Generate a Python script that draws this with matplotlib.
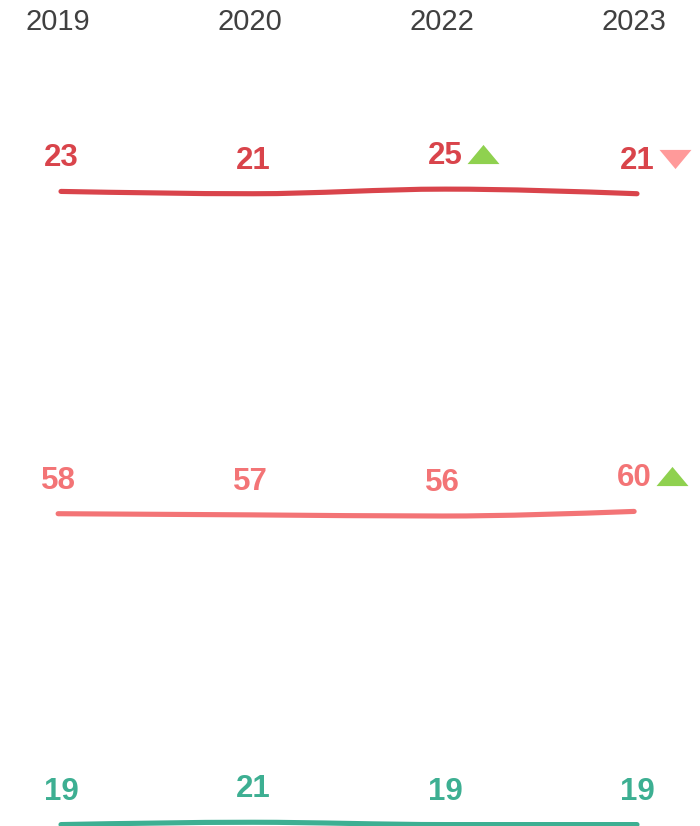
"""Small-multiple trend lines with value labels and change arrows."""
import numpy as np
import matplotlib
matplotlib.use("Agg")
import matplotlib.pyplot as plt
from matplotlib.path import Path
from matplotlib.patches import PathPatch
from matplotlib import transforms

years = ["2019", "2020", "2022", "2023"]
series_a = [23, 21, 25, 21]
series_b = [58, 57, 56, 60]
series_c = [19, 21, 19, 19]
trend_a = [None, None, "up", "down"]
trend_b = [None, None, None, "up"]
trend_c = [None, None, None, None]

colors = ["#d9444b", "#f37476", "#3daf92"]
up_color = "#8fd14f"
down_color = "#ff9a9a"

plt.rcParams["font.family"] = ["Liberation Sans", "DejaVu Sans"]

W, H = 700, 826
fig = plt.figure(figsize=(W / 100, H / 100), dpi=100)

# layout: vertical centre of each band (figure fraction) and px per unit
band_centres = [1 - 192 / H, 1 - 514 / H, 1 - 824 / H]
band_shift = [0.0, -0.015, 0.0]   # small horizontal nudge per band (x units)
band_height = 0.2
px_per_unit = 1.15
x = np.arange(len(years))
xlim = (-61 / 192, 3 + 63 / 192)


def monotone_path(xs, ys):
    """Cubic bezier path through the points (monotone-x style)."""
    xs = np.asarray(xs, float)
    ys = np.asarray(ys, float)
    h = np.diff(xs)
    s = np.diff(ys) / h
    n = len(xs)
    t = np.zeros(n)
    for i in range(1, n - 1):
        if s[i - 1] * s[i] <= 0:
            t[i] = 0
        else:
            p = (s[i - 1] * h[i] + s[i] * h[i - 1]) / (h[i - 1] + h[i])
            t[i] = (np.sign(s[i - 1]) + np.sign(s[i])) * min(abs(s[i - 1]), abs(s[i]), 0.5 * abs(p))
    t[0] = (3 * s[0] - t[1]) / 2
    t[-1] = (3 * s[-1] - t[-2]) / 2
    verts = [(xs[0], ys[0])]
    codes = [Path.MOVETO]
    for i in range(n - 1):
        d = h[i] / 3
        verts += [(xs[i] + d, ys[i] + d * t[i]),
                  (xs[i + 1] - d, ys[i + 1] - d * t[i + 1]),
                  (xs[i + 1], ys[i + 1])]
        codes += [Path.CURVE4] * 3
    return Path(verts, codes)


tri_up = Path([(-1, -0.6), (1, -0.6), (0, 0.6), (-1, -0.6)],
              [Path.MOVETO, Path.LINETO, Path.LINETO, Path.CLOSEPOLY])
tri_down = Path([(-1, 0.6), (1, 0.6), (0, -0.6), (-1, 0.6)],
                [Path.MOVETO, Path.LINETO, Path.LINETO, Path.CLOSEPOLY])

all_series = [series_a, series_b, series_c]
all_trends = [trend_a, trend_b, trend_c]
axes = []
for k, (vals, trends) in enumerate(zip(all_series, all_trends)):
    ax = fig.add_axes([0, band_centres[k] - band_height / 2, 1, band_height])
    ax.set_axis_off()
    ax.patch.set_visible(False)
    half = band_height * H / px_per_unit / 2
    mid = np.mean(vals)
    ax.set_ylim(mid - half, mid + half)
    ax.set_xlim(xlim[0] - band_shift[k], xlim[1] - band_shift[k])
    axes.append(ax)

    patch = PathPatch(monotone_path(x, vals), fill=False, edgecolor=colors[k],
                      linewidth=3.7, capstyle="round", joinstyle="round",
                      clip_on=False)
    ax.add_patch(patch)

    for xi, v, tr in zip(x, vals, trends):
        ax.annotate(str(v), (xi, v), xytext=(0, 33), textcoords="offset pixels",
                    ha="center", va="center", fontsize=22.5, fontweight="bold",
                    color=colors[k], annotation_clip=False)
        if tr is not None:
            off = transforms.offset_copy(ax.transData, fig=fig, x=38, y=35, units="dots")
            ax.plot([xi], [v], linestyle="none", transform=off, clip_on=False,
                    marker=tri_up if tr == "up" else tri_down, markersize=23,
                    markeredgewidth=0,
                    color=up_color if tr == "up" else down_color)

# year labels along the top
trans = transforms.blended_transform_factory(axes[0].transData, fig.transFigure)
for xi, yr in zip(x, years):
    fig.text(xi - 0.015, 1 - 22 / H, yr, transform=trans, ha="center", va="center",
             fontsize=21, color="#404040")

fig.savefig("out.png", dpi=100)
plt.close(fig)
